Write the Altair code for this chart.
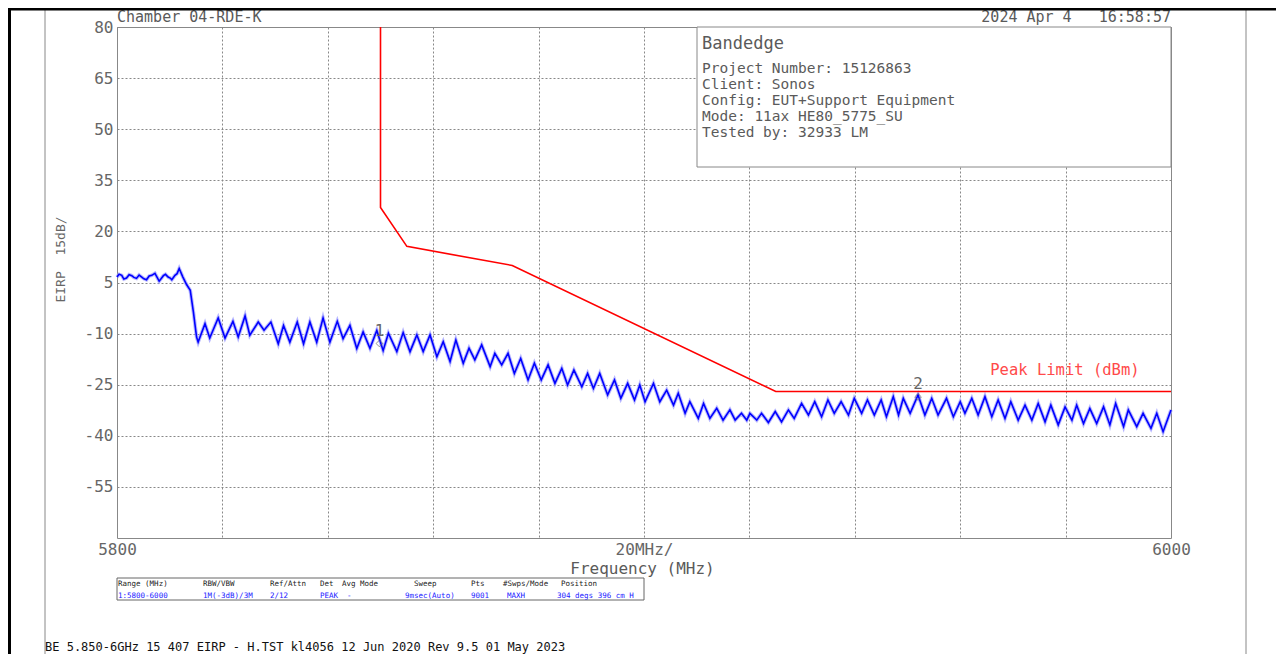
import altair as alt
import pandas as pd

# ---------------- data ----------------
trace_freq = [
    5800.0, 5800.4, 5800.9, 5801.3, 5801.8, 5802.3, 5802.8, 5803.2, 5803.7, 5804.2,
    5804.7, 5805.1, 5805.6, 5806.1, 5806.6, 5807.2, 5808.0, 5808.4, 5808.8, 5809.2,
    5809.7, 5810.1, 5810.4, 5811.0, 5811.4, 5811.8, 5812.5, 5813.2, 5813.9, 5814.5,
    5815.1,
    5815.4, 5816.7, 5817.6, 5819.2, 5820.5, 5822.0, 5823.0, 5824.3, 5825.2, 5826.8,
    5827.9, 5829.2, 5830.6, 5831.6, 5832.8, 5834.2, 5835.4, 5836.6, 5837.9, 5839.1,
    5840.4, 5841.8, 5842.9, 5844.2, 5845.5, 5846.7, 5848.0, 5849.3, 5850.5,
    5851.5, 5853.1, 5854.3, 5855.6, 5856.9, 5858.1, 5859.4, 5860.7, 5861.9, 5863.2,
    5864.3, 5865.7, 5866.8, 5867.9, 5869.2, 5870.8, 5871.7, 5873.0, 5874.2, 5875.4,
    5876.6, 5878.0, 5879.2, 5880.5, 5881.8, 5883.1, 5884.4, 5885.5, 5886.7, 5888.2,
    5889.3, 5890.4, 5891.6, 5893.1, 5894.4, 5895.6, 5896.9, 5898.2, 5899.2,
    5900.2, 5901.8, 5903.0, 5904.3, 5905.6, 5906.5, 5907.8, 5908.7, 5910.3, 5911.3,
    5912.5, 5913.8, 5915.0, 5916.3, 5917.3, 5918.5, 5919.5, 5920.1, 5921.4, 5922.3,
    5923.6, 5924.9, 5926.1, 5927.4, 5928.5, 5929.9, 5931.2, 5932.4, 5933.7, 5934.9,
    5936.1, 5937.4, 5938.8, 5939.9, 5941.3, 5942.4, 5943.7, 5945.0, 5946.0, 5947.3,
    5948.3,
    5949.2, 5950.5, 5952.0, 5953.3, 5954.6, 5955.8, 5957.4, 5958.7, 5960.0, 5960.9,
    5962.2, 5963.4, 5964.7, 5966.0, 5967.2, 5968.5, 5969.6, 5971.0, 5972.3, 5973.6,
    5974.8, 5976.1, 5977.2, 5978.6, 5979.9, 5981.2, 5982.1, 5983.4, 5984.6, 5985.9,
    5987.2, 5988.4, 5989.5, 5991.0, 5991.9, 5993.5, 5994.7, 5996.2, 5997.3, 5998.5,
    6000.0,
]
trace_dbm = [
    6.6, 7.4, 7.1, 6.0, 6.3, 7.3, 7.0, 6.5, 6.2, 7.2,
    6.6, 6.1, 5.8, 6.9, 7.1, 7.7, 5.4, 6.2, 7.0, 7.4,
    6.6, 6.3, 5.8, 7.1, 7.6, 9.1, 6.6, 4.4, 2.7, -3.7,
    -11.0,
    -12.5, -7.1, -11.3, -5.4, -11.3, -6.4, -11.0, -4.8, -10.5, -6.6,
    -9.0, -6.6, -13.0, -7.6, -12.5, -6.6, -13.0, -6.6, -12.5, -5.4,
    -12.5, -6.4, -11.5, -7.6, -14.4, -9.5, -14.3, -9.1, -15.0,
    -9.9, -15.3, -9.7, -15.3, -10.4, -15.3, -10.4, -16.8, -12.4, -18.2,
    -11.9, -18.7, -14.3, -17.7, -13.3, -19.7, -15.8, -19.2, -15.8, -21.7,
    -17.3, -23.6, -18.7, -23.6, -19.2, -24.6, -20.2, -25.1, -20.7, -25.6,
    -21.7, -26.1, -21.7, -28.0, -23.6, -29.0, -24.6, -29.5, -25.1,
    -30.0, -24.6, -30.0, -26.6, -31.0, -27.5, -33.4, -30.0, -34.9, -30.5,
    -34.9, -31.9, -35.4, -32.4, -35.4, -33.4, -35.4, -33.4, -35.4, -33.4,
    -36.1, -32.9, -35.9, -32.4, -34.9, -30.5, -33.9, -30.0, -34.4, -29.5,
    -33.4, -30.0, -33.9, -29.0, -33.4, -29.5, -33.9, -29.5, -34.4, -28.5,
    -33.9,
    -29.0, -33.4, -28.0, -33.9, -29.0, -33.9, -29.0, -34.4, -30.0, -33.4,
    -29.0, -33.9, -28.5, -34.4, -29.5, -34.9, -30.0, -35.4, -31.0, -35.4,
    -30.5, -35.9, -31.0, -36.8, -31.5, -35.4, -31.0, -36.4, -32.0, -36.4,
    -31.5, -36.8, -30.5, -37.3, -32.4, -37.3, -33.4, -37.8, -33.4, -38.8,
    -32.4,
]

limit_freq = [5850, 5850, 5855, 5875, 5925, 6000]
limit_dbm = [80, 27, 15.6, 10, -27, -27]

marker_names = ["1", "2"]
marker_freq = [5849.8, 5952.0]
marker_dbm = [-12.9, -28.6]
marker_label_dbm = [-9.2, -24.8]

y_ticks = [-55, -40, -25, -10, 5, 20, 35, 50, 65, 80]
x_grid = [5800, 5820, 5840, 5860, 5880, 5900, 5920, 5940, 5960, 5980, 6000]
x_label_values = [5800, 5900, 6000]
x_label_texts = ["5800", "20MHz/", "6000"]

NB = "\u00a0"
header_left = "Chamber 04-RDE-K"
header_right = "2024 Apr 4" + NB * 3 + "16:58:57"
y_title = "EIRP" + NB * 2 + "15dB/"
info_title = "Bandedge"
info_lines = [
    "Project Number: 15126863",
    "Client: Sonos",
    "Config: EUT+Support Equipment",
    "Mode: 11ax HE80_5775_SU",
    "Tested by: 32933 LM",
]
limit_label = "Peak Limit (dBm)"
table_headers = ["Range (MHz)", "RBW/VBW", "Ref/Attn", "Det", "Avg Mode",
                 "Sweep", "Pts", "#Swps/Mode", "Position"]
table_header_x = [1, 86, 153, 203, 225, 297, 354, 386, 444]
table_values = ["1:5800-6000", "1M(-3dB)/3M", "2/12", "PEAK", "-",
                "9msec(Auto)", "9001", "MAXH", "304 degs 396 cm H"]
table_value_x = [1, 86, 153, 203, 230, 288, 354, 390, 440]
footer = "BE 5.850-6GHz 15 407 EIRP - H.TST kl4056 12 Jun 2020 Rev 9.5 01 May 2023"

# ---------------- chart ----------------
FONT = "DejaVu Sans Mono"
GREY = "#5a5a5a"
W, H = 1054, 511

xscale = alt.Scale(domain=[5800, 6000], nice=False, zero=False)
yscale = alt.Scale(domain=[-70, 80], nice=False, zero=False)

label_expr = " : ".join(
    f"datum.value == {v} ? '{t}'" for v, t in zip(x_label_values, x_label_texts)
) + " : ''"

x_axis = alt.Axis(
    values=x_grid, grid=True, gridDash=[2, 2], gridColor="#888888", gridWidth=1,
    ticks=False, domain=False, labelExpr=label_expr, labelFont=FONT,
    labelFontSize=16, labelColor="#666666", labelPadding=3, labelFlush=False,
    labelOverlap=False, labelBound=False,
    title="Frequency (MHz)", titleFont=FONT, titleFontSize=16,
    titleFontWeight="normal", titleColor=GREY, titleX=525, titleY=30,
    titleBaseline="middle", titleAlign="center",
)
y_axis = alt.Axis(
    values=y_ticks, grid=True, gridDash=[2, 2], gridColor="#888888", gridWidth=1,
    ticks=False, domain=False, labelExpr="'' + datum.value", labelFont=FONT,
    labelFontSize=16, labelColor="#666666", labelPadding=4, labelFlush=False,
    labelOverlap=False, labelBound=False,
    title=y_title, titleFont=FONT, titleFontSize=13, titleFontWeight="normal",
    titleColor="#666666", titleX=-57, titleY=232, titleAngle=270,
    titleBaseline="middle", titleAlign="center",
)

trace_df = pd.DataFrame({"freq": trace_freq, "dbm": trace_dbm})
limit_df = pd.DataFrame({"freq": limit_freq, "dbm": limit_dbm,
                         "i": list(range(len(limit_freq)))})
marker_df = pd.DataFrame({"name": marker_names, "freq": marker_freq,
                          "dbm": marker_dbm, "ldbm": marker_label_dbm})
one = pd.DataFrame({"k": [0]})

halo = alt.Chart(trace_df).mark_line(color="#a0a0ff", strokeWidth=3.6, opacity=0.75).encode(
    x=alt.X("freq:Q", scale=xscale, axis=x_axis),
    y=alt.Y("dbm:Q", scale=yscale, axis=y_axis),
)
trace = alt.Chart(trace_df).mark_line(color="#0000ff", strokeWidth=1.6).encode(
    x=alt.X("freq:Q", scale=xscale),
    y=alt.Y("dbm:Q", scale=yscale),
)
limit = alt.Chart(limit_df).mark_line(color="#ff0000", strokeWidth=1.6).encode(
    x=alt.X("freq:Q", scale=xscale),
    y=alt.Y("dbm:Q", scale=yscale),
    order="i:Q",
)
limit_text = alt.Chart(one).mark_text(
    text=limit_label, align="left", baseline="middle", font=FONT, fontSize=15.5,
    color="#ff4a4a",
).encode(x=alt.datum(5965.7, scale=xscale), y=alt.datum(-20.7, scale=yscale))

marker_pts = alt.Chart(marker_df).mark_point(
    shape="diamond", filled=False, color="#666666", size=45, strokeWidth=1,
).encode(x=alt.X("freq:Q", scale=xscale), y=alt.Y("dbm:Q", scale=yscale))
marker_txt = alt.Chart(marker_df).mark_text(
    font=FONT, fontSize=16, color="#666666", baseline="middle", align="center",
).encode(x=alt.X("freq:Q", scale=xscale), y=alt.Y("ldbm:Q", scale=yscale), text="name:N")

info_box = alt.Chart(one).mark_rect(fill="white", stroke="#888888", strokeWidth=1).encode(
    x=alt.value(580), x2=alt.value(W), y=alt.value(0), y2=alt.value(140)
)


def txt(s, x, y, size=14.5, color=GREY, align="left", baseline="middle"):
    return alt.Chart(one).mark_text(
        text=s, align=align, baseline=baseline, font=FONT, fontSize=size, color=color
    ).encode(x=alt.value(x), y=alt.value(y))


layers = [halo, trace, limit, limit_text, marker_pts, marker_txt, info_box]
layers.append(txt(header_left, 0, -10, 15))
layers.append(txt(header_right, W, -10, 15, align="right"))
layers.append(txt(info_title, 585, 17, 17))
for i, line in enumerate(info_lines):
    layers.append(txt(line, 585, 42 + 16 * i, 14.5))

# settings table
table_box = alt.Chart(one).mark_rect(fill="white", stroke="#666666", strokeWidth=1).encode(
    x=alt.value(0), x2=alt.value(527), y=alt.value(551), y2=alt.value(573)
)
layers.append(table_box)
for s, x in zip(table_headers, table_header_x):
    layers.append(txt(s, x, 557, 7.5, color="#222222"))
for s, x in zip(table_values, table_value_x):
    layers.append(txt(s, x, 568.5, 7.5, color="#1a1aff"))

# page frame lines
frame_grey_left = alt.Chart(one).mark_rule(color="#888888", strokeWidth=1).encode(
    x=alt.value(-72), y=alt.value(-19), y2=alt.value(630))
frame_grey_right = alt.Chart(one).mark_rule(color="#888888", strokeWidth=1).encode(
    x=alt.value(1129), y=alt.value(-19), y2=alt.value(630))
frame_black_left = alt.Chart(one).mark_rule(color="#000000", strokeWidth=3).encode(
    x=alt.value(-107.5), y=alt.value(-19), y2=alt.value(630))
frame_black_top = alt.Chart(one).mark_rule(color="#000000", strokeWidth=3).encode(
    y=alt.value(-18), x=alt.value(-109), x2=alt.value(1160))
layers += [frame_grey_left, frame_grey_right, frame_black_left, frame_black_top]
layers.append(txt(footer, -72, 620, 12, color="#111111"))

chart = alt.layer(*layers).properties(
    width=W, height=H,
    padding={"left": 109, "top": 19, "right": 105, "bottom": 116},
    autosize=alt.AutoSizeParams(type="none"),
    background="white",
).configure_view(stroke="#888888", strokeWidth=1)

chart.save("out.html", embed_options={"renderer": "svg", "actions": False})
